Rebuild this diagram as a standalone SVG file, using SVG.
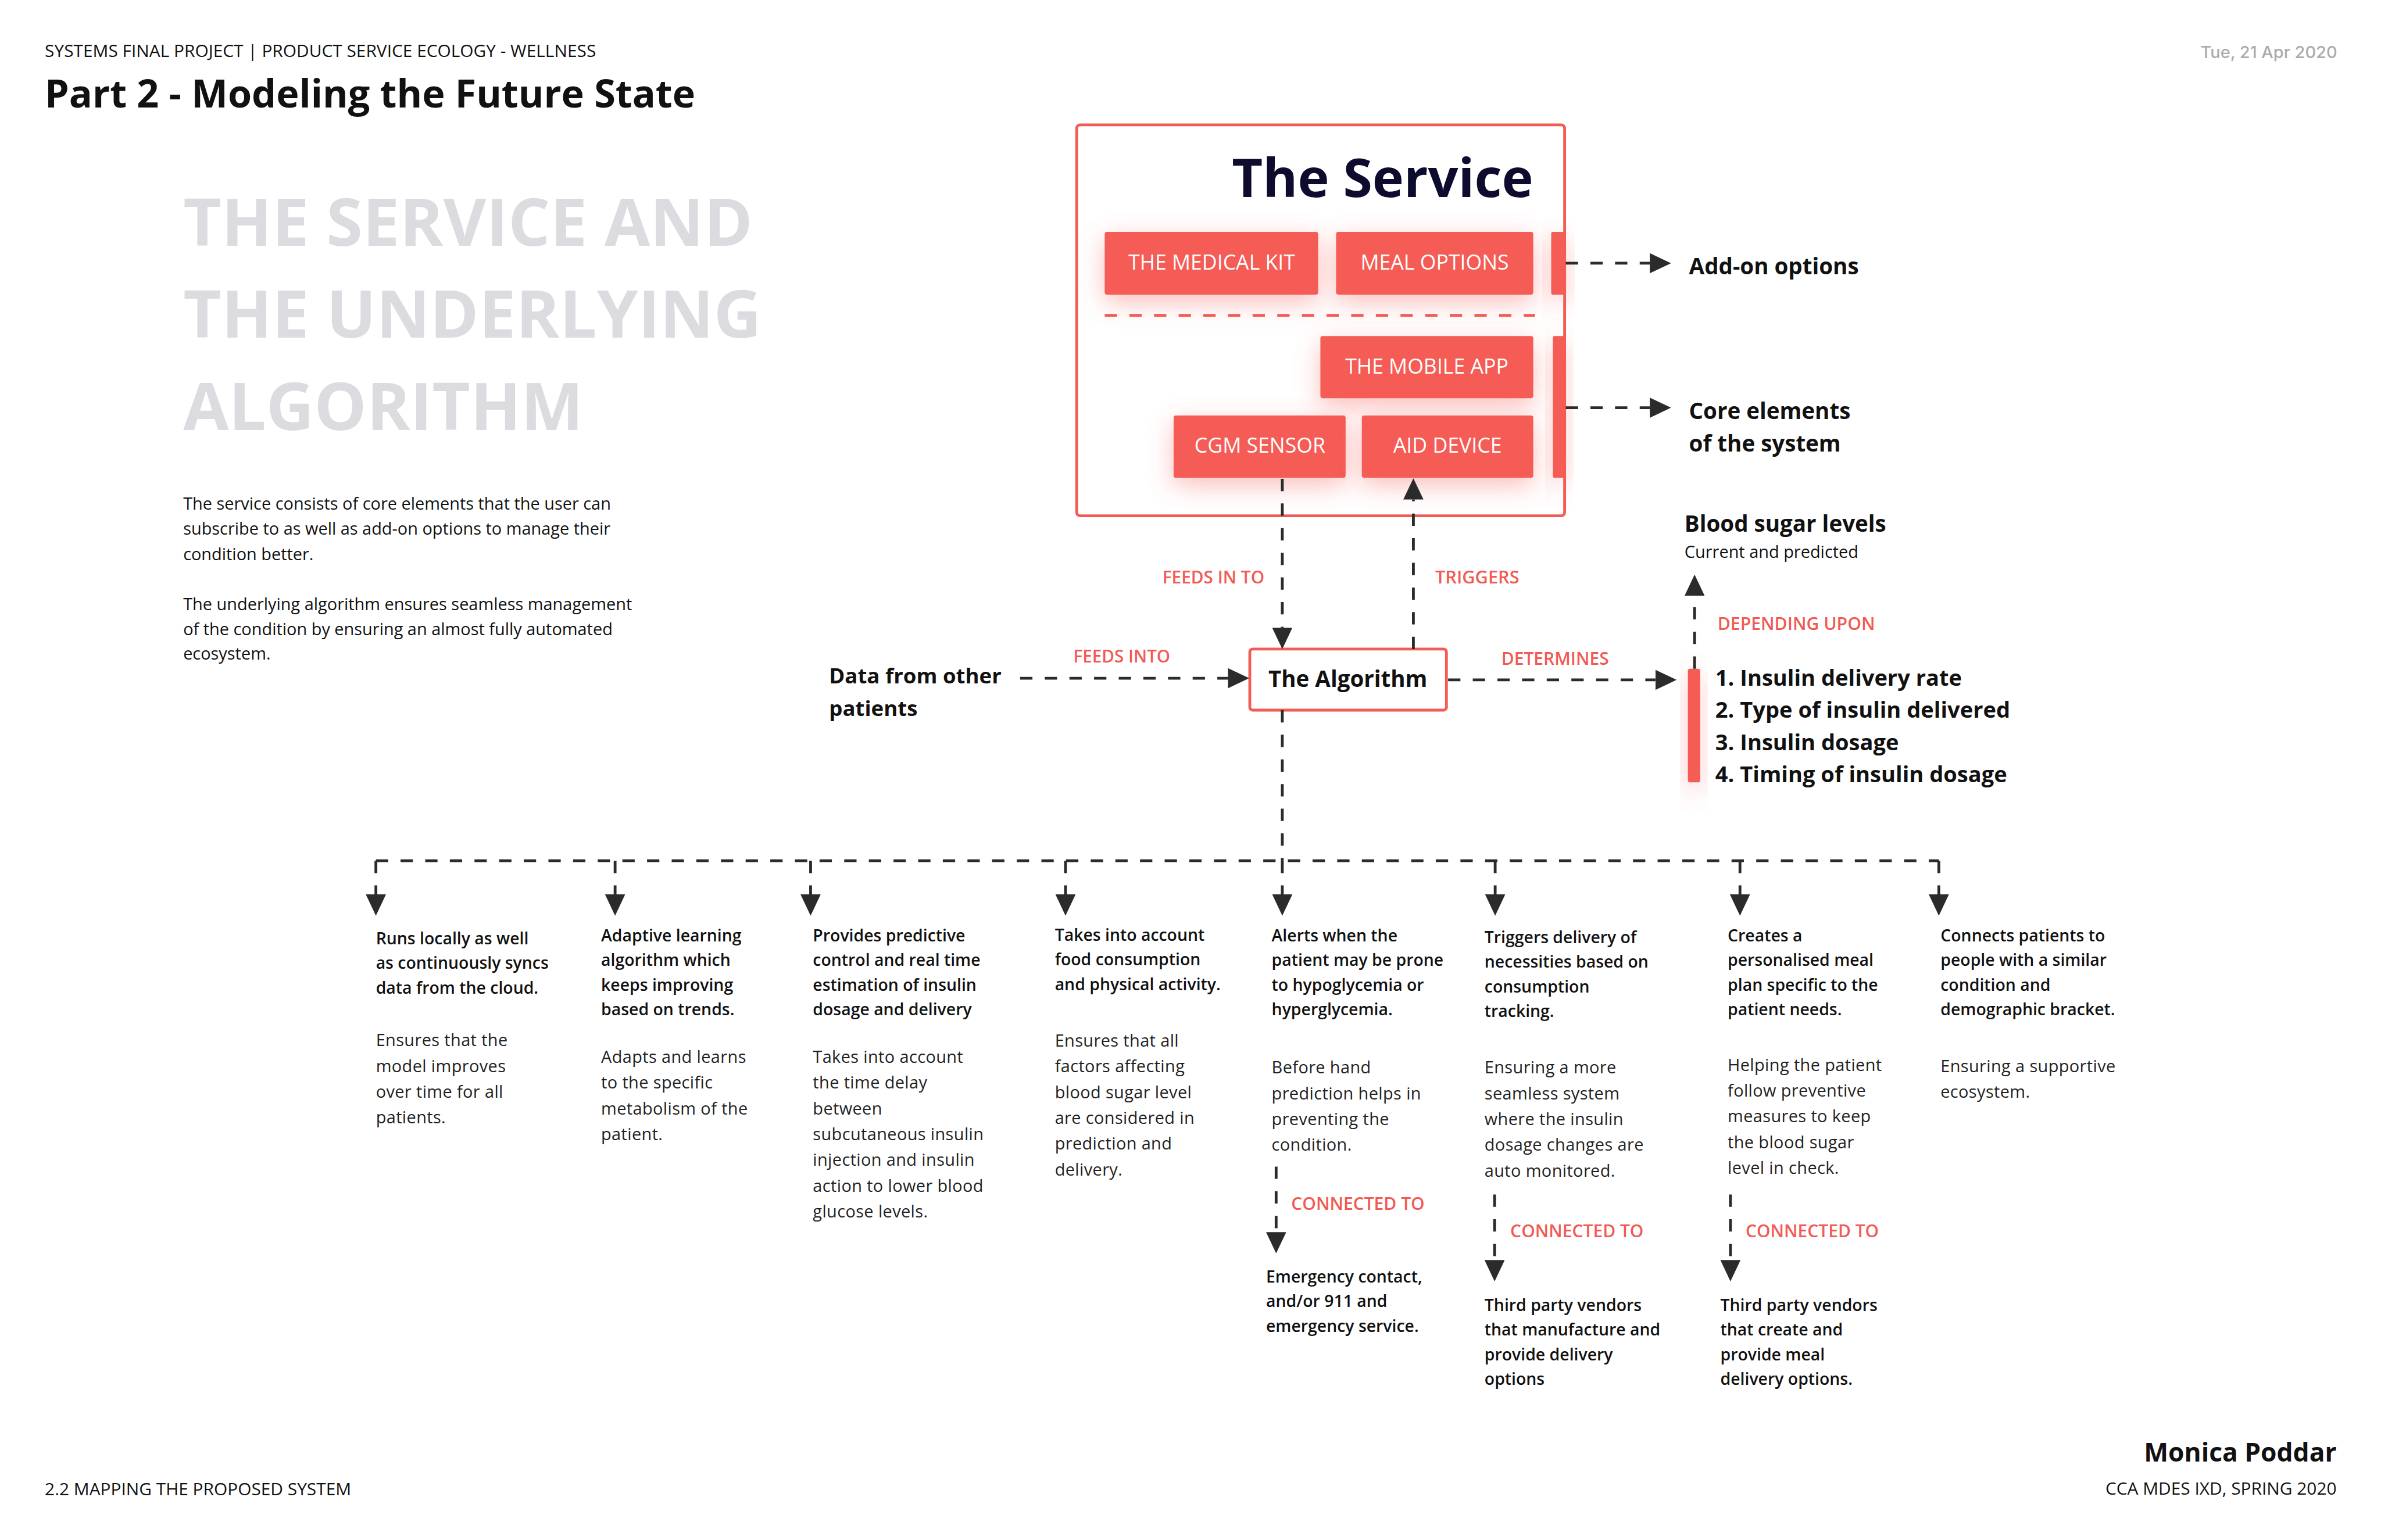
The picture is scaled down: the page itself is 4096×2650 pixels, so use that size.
<svg xmlns="http://www.w3.org/2000/svg" width="4096" height="2650" viewBox="0 0 4096 2650">
<defs>
<style>
.os{font-family:"Open Sans","Noto Sans","Liberation Sans",sans-serif}
.hd{font-family:"Open Sans","Noto Sans",sans-serif;font-size:31px;fill:#111}
.btn{fill:#F45B55}
.btxt{font-family:"Open Sans","Noto Sans",sans-serif;font-size:37px;fill:#fff;text-anchor:middle;font-weight:500}
.red{font-family:"Open Sans","Noto Sans",sans-serif;font-size:31px;fill:#F25A54;font-weight:600}
.big{font-family:"Open Sans","Noto Sans",sans-serif;font-weight:700;fill:#111}
.ch{font-family:"Open Sans","Noto Sans",sans-serif;font-size:29.5px;font-weight:600;fill:#111}
.cd{font-family:"Open Sans","Noto Sans",sans-serif;font-size:30px;font-weight:400;fill:#222;letter-spacing:0.4px}
.dash{fill:none;stroke:#2b2b2b;stroke-width:5;stroke-dasharray:22 22}
.arr{marker-end:url(#ah)}
</style>
<marker id="ah" markerUnits="userSpaceOnUse" viewBox="0 0 38 36" markerWidth="38" markerHeight="36" refX="0" refY="18" orient="auto">
<path d="M0,0 L38,18 L0,36 Z" fill="#2b2b2b"/>
</marker>
<filter id="glow" x="-60%" y="-60%" width="220%" height="220%">
<feGaussianBlur in="SourceAlpha" stdDeviation="22" result="b"/>
<feOffset in="b" dy="14" result="o"/>
<feFlood flood-color="#F45B55" flood-opacity="0.4"/>
<feComposite in2="o" operator="in" result="s"/>
<feMerge><feMergeNode in="s"/><feMergeNode in="SourceGraphic"/></feMerge>
</filter>
</defs>
<rect width="4096" height="2650" fill="#fff"/>
<g transform="scale(0.9637)">

<g id="header">
<text class="hd" x="80" y="102">SYSTEMS FINAL PROJECT | PRODUCT SERVICE ECOLOGY - WELLNESS</text>
<text class="big" x="80" y="192" font-size="69">Part 2 - Modeling the Future State</text>
<text x="4172" y="104" text-anchor="end" font-family="Inter,'Liberation Sans',sans-serif" font-size="30" font-weight="500" fill="#ABABAB">Tue, 21 Apr 2020</text>
</g>

<g id="intro">
<text class="big" font-size="118" style="fill:#DCDCE0"><tspan x="327" y="439">THE SERVICE AND</tspan><tspan x="327" y="603">THE UNDERLYING</tspan><tspan x="327" y="768">ALGORITHM</tspan></text>
<text class="os" font-size="30" font-weight="500" fill="#111">
<tspan x="327" y="910">The service consists of core elements that the user can</tspan>
<tspan x="327" y="955">subscribe to as well as add-on options to manage their</tspan>
<tspan x="327" y="1000">condition better.</tspan>
<tspan x="327" y="1090">The underlying algorithm ensures seamless management</tspan>
<tspan x="327" y="1134">of the condition by ensuring an almost fully automated</tspan>
<tspan x="327" y="1178">ecosystem.</tspan>
</text>
</g>

<g id="service">
<rect x="1922" y="223" width="871" height="698" rx="6" fill="#fff" stroke="#F45B55" stroke-width="5"/>
<text class="big" x="2737" y="352" font-size="95" text-anchor="end" style="fill:#0D0B2E">The Service</text>
<g id="medical-kit"><rect class="btn" x="1972" y="414" width="381" height="112" rx="4" filter="url(#glow)"/><text class="btxt" x="2163" y="481">THE MEDICAL KIT</text></g>
<g id="meal-options"><rect class="btn" x="2385" y="414" width="352" height="112" rx="4" filter="url(#glow)"/><text class="btxt" x="2561" y="481">MEAL OPTIONS</text></g>
<g id="addon-tab"><rect class="btn" x="2769" y="414" width="26" height="112" rx="3" filter="url(#glow)"/></g>
<line x1="1972" y1="563" x2="2740" y2="563" stroke="#F45B55" stroke-width="5" stroke-dasharray="22 22"/>
<g id="mobile-app"><rect class="btn" x="2357" y="600" width="380" height="111" rx="4" filter="url(#glow)"/><text class="btxt" x="2547" y="667">THE MOBILE APP</text></g>
<g id="cgm-sensor"><rect class="btn" x="2095" y="742" width="307" height="111" rx="4" filter="url(#glow)"/><text class="btxt" x="2249" y="808">CGM SENSOR</text></g>
<g id="aid-device"><rect class="btn" x="2431" y="742" width="306" height="111" rx="4" filter="url(#glow)"/><text class="btxt" x="2584" y="808">AID DEVICE</text></g>
<g id="core-tab"><rect class="btn" x="2772" y="600" width="23" height="253" rx="3" filter="url(#glow)"/></g>
</g>

<g id="addon-label"><text class="big" x="3015" y="490" font-size="40">Add-on options</text></g>
<g id="core-label"><text class="big" font-size="40"><tspan x="3015" y="748">Core elements</tspan><tspan x="3015" y="806">of the system</tspan></text></g>

<g id="algorithm">
<rect x="2231" y="1159" width="351" height="109" rx="5" fill="#fff" stroke="#F45B55" stroke-width="5"/>
<text class="big" x="2406" y="1227" font-size="40" text-anchor="middle">The Algorithm</text>
</g>

<g id="data-patients"><text class="big" font-size="38"><tspan x="1480" y="1220">Data from other</tspan><tspan x="1480" y="1278">patients</tspan></text></g>

<g id="blood-sugar">
<text class="big" x="3007" y="949" font-size="40">Blood sugar levels</text>
<text class="os" x="3007" y="996" font-size="30" font-weight="500" fill="#111">Current and predicted</text>
</g>

<g id="insulin-list">
<rect x="3013" y="1194" width="22" height="203" rx="4" fill="#F45B55" filter="url(#glow)"/>
<text class="big" font-size="39.5"><tspan x="3062" y="1224">1. Insulin delivery rate</tspan><tspan x="3062" y="1282">2. Type of insulin delivered</tspan><tspan x="3062" y="1340">3. Insulin dosage</tspan><tspan x="3062" y="1397">4. Timing of insulin dosage</tspan></text>
</g>

<g id="connectors">
<path class="dash arr" d="M2795,470 H2945"/>
<path class="dash arr" d="M2795,728 H2945"/>
<path class="dash arr" d="M2289,855 V1121"/>
<path class="dash arr" d="M2523,1159 V892"/>
<path class="dash arr" d="M1821,1211 H2192"/>
<path class="dash arr" d="M2585,1214 H2955"/>
<path class="dash arr" d="M3025,1194 V1064"/>
<path class="dash" d="M2289,1268 V1537"/>
<path class="dash" d="M671,1537 H3461"/>
<path class="dash arr" d="M671,1537 V1597"/>
<path class="dash arr" d="M1098,1537 V1597"/>
<path class="dash arr" d="M1447,1537 V1597"/>
<path class="dash arr" d="M1902,1537 V1597"/>
<path class="dash arr" d="M2289,1537 V1597"/>
<path class="dash arr" d="M2669,1537 V1597"/>
<path class="dash arr" d="M3106,1537 V1597"/>
<path class="dash arr" d="M3461,1537 V1597"/>
<path class="dash arr" d="M2278,2083 V2200"/>
<path class="dash arr" d="M2668,2133 V2250"/>
<path class="dash arr" d="M3089,2133 V2250"/>
</g>

<g id="labels">
<text class="red" x="2075" y="1042" textLength="182" lengthAdjust="spacingAndGlyphs">FEEDS IN TO</text>
<text class="red" x="2562" y="1042" textLength="150" lengthAdjust="spacingAndGlyphs">TRIGGERS</text>
<text class="red" x="1916" y="1183" textLength="173" lengthAdjust="spacingAndGlyphs">FEEDS INTO</text>
<text class="red" x="2680" y="1187" textLength="192" lengthAdjust="spacingAndGlyphs">DETERMINES</text>
<text class="red" x="3066" y="1125" textLength="281" lengthAdjust="spacingAndGlyphs">DEPENDING UPON</text>
<text class="red" x="2305" y="2160" textLength="238" lengthAdjust="spacingAndGlyphs">CONNECTED TO</text>
<text class="red" x="2696" y="2209" textLength="238" lengthAdjust="spacingAndGlyphs">CONNECTED TO</text>
<text class="red" x="3116" y="2209" textLength="238" lengthAdjust="spacingAndGlyphs">CONNECTED TO</text>
</g>

<g id="col1">
<text class="ch"><tspan x="671" y="1686">Runs locally as well</tspan><tspan x="671" y="1730">as continuously syncs</tspan><tspan x="671" y="1774">data from the cloud.</tspan></text>
<text class="cd"><tspan x="671" y="1868">Ensures that the</tspan><tspan x="671" y="1914">model improves</tspan><tspan x="671" y="1960">over time for all</tspan><tspan x="671" y="2006">patients.</tspan></text>
</g>
<g id="col2">
<text class="ch"><tspan x="1073" y="1681">Adaptive learning</tspan><tspan x="1073" y="1725">algorithm which</tspan><tspan x="1073" y="1769">keeps improving</tspan><tspan x="1073" y="1813">based on trends.</tspan></text>
<text class="cd"><tspan x="1073" y="1898">Adapts and learns</tspan><tspan x="1073" y="1944">to the specific</tspan><tspan x="1073" y="1990">metabolism of the</tspan><tspan x="1073" y="2036">patient.</tspan></text>
</g>
<g id="col3">
<text class="ch"><tspan x="1451" y="1681">Provides predictive</tspan><tspan x="1451" y="1725">control and real time</tspan><tspan x="1451" y="1769">estimation of insulin</tspan><tspan x="1451" y="1813">dosage and delivery</tspan></text>
<text class="cd"><tspan x="1451" y="1898">Takes into account</tspan><tspan x="1451" y="1944">the time delay</tspan><tspan x="1451" y="1990">between</tspan><tspan x="1451" y="2036">subcutaneous insulin</tspan><tspan x="1451" y="2082">injection and insulin</tspan><tspan x="1451" y="2128">action to lower blood</tspan><tspan x="1451" y="2174">glucose levels.</tspan></text>
</g>
<g id="col4">
<text class="ch"><tspan x="1883" y="1680">Takes into account</tspan><tspan x="1883" y="1724">food consumption</tspan><tspan x="1883" y="1768">and physical activity.</tspan></text>
<text class="cd"><tspan x="1883" y="1869">Ensures that all</tspan><tspan x="1883" y="1915">factors affecting</tspan><tspan x="1883" y="1961">blood sugar level</tspan><tspan x="1883" y="2007">are considered in</tspan><tspan x="1883" y="2053">prediction and</tspan><tspan x="1883" y="2099">delivery.</tspan></text>
</g>
<g id="col5">
<text class="ch"><tspan x="2270" y="1681">Alerts when the</tspan><tspan x="2270" y="1725">patient may be prone</tspan><tspan x="2270" y="1769">to hypoglycemia or</tspan><tspan x="2270" y="1813">hyperglycemia.</tspan></text>
<text class="cd"><tspan x="2270" y="1917">Before hand</tspan><tspan x="2270" y="1963">prediction helps in</tspan><tspan x="2270" y="2009">preventing the</tspan><tspan x="2270" y="2055">condition.</tspan></text>
</g>
<g id="emergency">
<text class="ch"><tspan x="2260" y="2290">Emergency contact,</tspan><tspan x="2260" y="2334">and/or 911 and</tspan><tspan x="2260" y="2378">emergency service.</tspan></text>
</g>
<g id="col6">
<text class="ch"><tspan x="2650" y="1684">Triggers delivery of</tspan><tspan x="2650" y="1728">necessities based on</tspan><tspan x="2650" y="1772">consumption</tspan><tspan x="2650" y="1816">tracking.</tspan></text>
<text class="cd"><tspan x="2650" y="1917">Ensuring a more</tspan><tspan x="2650" y="1963">seamless system</tspan><tspan x="2650" y="2009">where the insulin</tspan><tspan x="2650" y="2055">dosage changes are</tspan><tspan x="2650" y="2101">auto monitored.</tspan></text>
</g>
<g id="vendors-delivery">
<text class="ch"><tspan x="2650" y="2341">Third party vendors</tspan><tspan x="2650" y="2385">that manufacture and</tspan><tspan x="2650" y="2429">provide delivery</tspan><tspan x="2650" y="2473">options</tspan></text>
</g>
<g id="col7">
<text class="ch"><tspan x="3084" y="1681">Creates a</tspan><tspan x="3084" y="1725">personalised meal</tspan><tspan x="3084" y="1769">plan specific to the</tspan><tspan x="3084" y="1813">patient needs.</tspan></text>
<text class="cd"><tspan x="3084" y="1912">Helping the patient</tspan><tspan x="3084" y="1958">follow preventive</tspan><tspan x="3084" y="2004">measures to keep</tspan><tspan x="3084" y="2050">the blood sugar</tspan><tspan x="3084" y="2096">level in check.</tspan></text>
</g>
<g id="vendors-meal">
<text class="ch"><tspan x="3071" y="2341">Third party vendors</tspan><tspan x="3071" y="2385">that create and</tspan><tspan x="3071" y="2429">provide meal</tspan><tspan x="3071" y="2473">delivery options.</tspan></text>
</g>
<g id="col8">
<text class="ch"><tspan x="3464" y="1681">Connects patients to</tspan><tspan x="3464" y="1725">people with a similar</tspan><tspan x="3464" y="1769">condition and</tspan><tspan x="3464" y="1813">demographic bracket.</tspan></text>
<text class="cd"><tspan x="3464" y="1914">Ensuring a supportive</tspan><tspan x="3464" y="1960">ecosystem.</tspan></text>
</g>

<g id="footer">
<text class="hd" x="80" y="2670">2.2 MAPPING THE PROPOSED SYSTEM</text>
<text class="big" x="4171" y="2610" font-size="46" text-anchor="end">Monica Poddar</text>
<text class="hd" x="4171" y="2669" text-anchor="end">CCA MDES IXD, SPRING 2020</text>
</g>
</g>
</svg>
